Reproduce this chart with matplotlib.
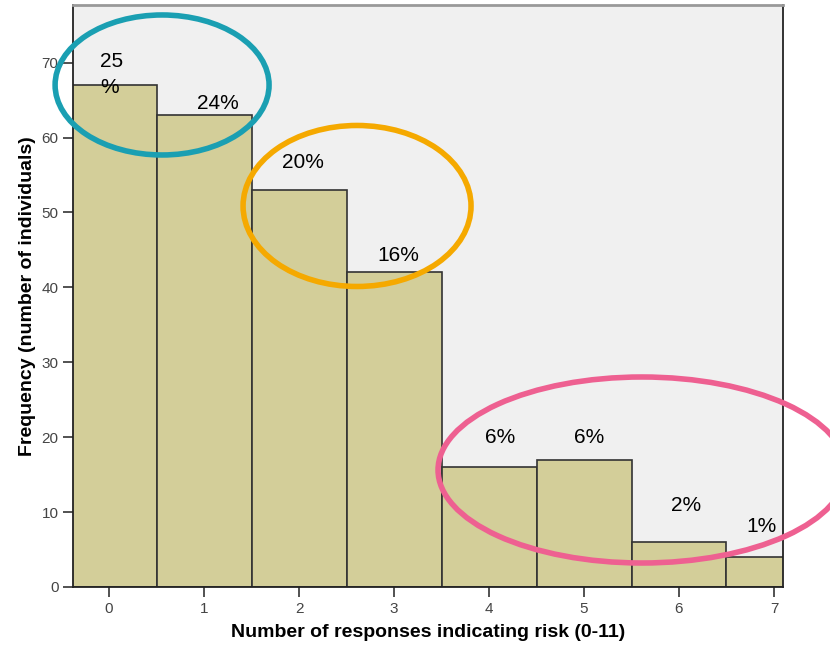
import matplotlib
matplotlib.use("Agg")
import matplotlib.pyplot as plt
from matplotlib.patches import Ellipse

# Daten
responses = [0, 1, 2, 3, 4, 5, 6, 7]
frequency = [67, 63, 53, 42, 16, 17, 6, 4]
pct_labels = ["25\n%", "24%", "20%", "16%", "6%", "6%", "2%", "1%"]
y_ticks = [0, 10, 20, 30, 40, 50, 60, 70]

plt.rcParams['font.family'] = ['Liberation Sans', 'DejaVu Sans']


def main():
    fig = plt.figure(figsize=(8.3, 6.48), dpi=100)
    ax = fig.add_axes([73 / 830, 61 / 648, 710 / 830, 582 / 648])
    ax.set_facecolor("#f0f0f0")

    ax.bar(responses, frequency, width=1.0, color="#d3ce99",
           edgecolor="#333333", linewidth=1.2, zorder=2)

    ax.set_xlim(-0.38, 7.095)
    ax.set_ylim(0, 77.7)
    ax.set_xticks(responses)
    ax.set_yticks(y_ticks)
    ax.tick_params(axis="both", direction="out", length=7, width=1.2,
                   labelsize=11, labelcolor="#444444", color="#333333")

    for s in ["left", "bottom", "right"]:
        ax.spines[s].set_color("#222222")
        ax.spines[s].set_linewidth(1.3)
    ax.spines["top"].set_color("#999999")
    ax.spines["top"].set_linewidth(2)

    ax.set_xlabel("Number of responses indicating risk (0-11)",
                  fontsize=14, fontweight="bold", labelpad=6)
    ax.set_ylabel("Frequency (number of individuals)",
                  fontsize=14, fontweight="bold", labelpad=4)

    # Prozent-Beschriftungen (Abstand über dem Balken)
    offsets = [1.4, 1.5, 3.7, 2.3, 4.0, 3.0, 4.9, 4.1]
    xshift = [-0.095, 0.15, 0.04, 0.04, 0.12, 0.05, 0.07, -0.13]
    for i, (x, f, lab, o, dx) in enumerate(zip(responses, frequency,
                                               pct_labels, offsets, xshift)):
        ax.text(x + dx, f + o, lab, ha="left" if i == 0 else "center",
                va="center", fontsize=15, linespacing=1.45, zorder=4)

    # Ellipsen (Markierungen)
    ells = [
        ((162, 85), 214, 140, "#1a9fb2"),
        ((357, 206), 228, 161, "#f5a900"),
        ((642, 470), 408, 186, "#ee6091"),
    ]
    for (cx, cy), w, h, col in ells:
        xd = (cx - 109) / 95
        yd = (587 - cy) / 7.49
        e = Ellipse((xd, yd), w / 95, h / 7.49, fill=False,
                    edgecolor=col, linewidth=4, clip_on=False, zorder=5)
        ax.add_patch(e)

    fig.savefig("out.png", dpi=100)


if __name__ == "__main__":
    main()
